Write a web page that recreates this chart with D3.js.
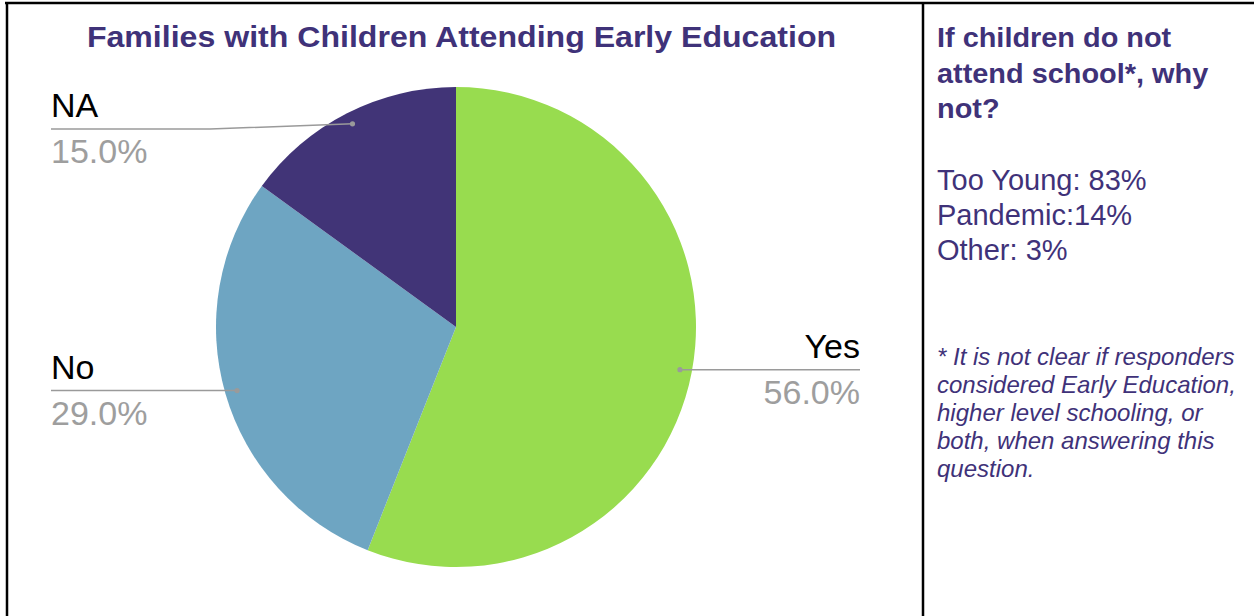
<!DOCTYPE html>
<html>
<head>
<meta charset="utf-8">
<script src="https://cdn.jsdelivr.net/npm/d3@7"></script>
<style>
  html, body { margin: 0; padding: 0; background: #fff; }
  svg { display: block; font-family: "Liberation Sans", Arial, sans-serif; }
</style>
</head>
<body>
<svg id="chart" width="1254" height="616"></svg>
<script>
// Survey answers: do the family's children attend early education?
const categories = ["Yes", "No", "NA"];
const shares = [56.0, 29.0, 15.0];
const sliceColors = ["#98dc4f", "#6ea5c2", "#413477"];

// Side panel: reasons given for not attending
const reasonsTitle = ["If children do not", "attend school*, why", "not?"];
const reasons = ["Too Young: 83%", "Pandemic:14%", "Other: 3%"];
const footnote = [
  "* It is not clear if responders",
  "considered Early Education,",
  "higher level schooling, or",
  "both, when answering this",
  "question."
];

const chartTitle = "Families with Children Attending Early Education";

const W = 1254, H = 616;
const purple = "#3f3279";
const svg = d3.select("#chart");

// frame: top rule, left rule and the column divider
svg.append("line").attr("x1", 5).attr("x2", W).attr("y1", 3).attr("y2", 3)
  .attr("stroke", "#000").attr("stroke-width", 2.5);
svg.append("line").attr("x1", 7).attr("x2", 7).attr("y1", 2).attr("y2", H)
  .attr("stroke", "#000").attr("stroke-width", 2.5);
svg.append("line").attr("x1", 923).attr("x2", 923).attr("y1", 2).attr("y2", H)
  .attr("stroke", "#000").attr("stroke-width", 2.5);

// chart title
svg.append("text")
  .attr("transform", "translate(461.5,47) scale(1.07,1)")
  .attr("text-anchor", "middle")
  .attr("font-weight", "bold")
  .attr("font-size", 30)
  .attr("fill", purple)
  .text(chartTitle);

// pie
const cx = 456, cy = 327, R = 240;
const data = categories.map((c, i) => ({ name: c, value: shares[i], color: sliceColors[i] }));
const pie = d3.pie().value(d => d.value).sort(null);
const arcs = pie(data);
const arc = d3.arc().innerRadius(0).outerRadius(R);
const g = svg.append("g").attr("transform", `translate(${cx},${cy})`);
g.selectAll("path.slice").data(arcs).enter().append("path")
  .attr("class", "slice")
  .attr("d", arc)
  .attr("fill", d => d.data.color);

// leader lines and labels
const dotArc = d3.arc().innerRadius(R * 0.95).outerRadius(R * 0.95);
const leftX = 51 - cx, rightX = 860 - cx, minLineY = 129 - cy, bendX = 210 - cx;
const fmt = d3.format(".1f");
arcs.forEach(a => {
  const [px, py] = dotArc.centroid(a);
  const mid = (a.startAngle + a.endAngle) / 2;
  const right = mid < Math.PI;
  const lineY = Math.max(py, minLineY);
  const pts = right
    ? [[px, py], [rightX, lineY]]
    : (lineY !== py ? [[px, py], [bendX, lineY], [leftX, lineY]] : [[px, py], [leftX, lineY]]);
  g.append("path")
    .attr("d", d3.line()(pts))
    .attr("fill", "none")
    .attr("stroke", "#9a9a9a")
    .attr("stroke-width", 1.5);
  g.append("circle").attr("cx", px).attr("cy", py).attr("r", 2.6).attr("fill", "#9a9a9a");
  const tx = right ? rightX : leftX;
  const anchor = right ? "end" : "start";
  g.append("text")
    .attr("x", tx).attr("y", lineY - 12)
    .attr("text-anchor", anchor)
    .attr("font-size", 34)
    .attr("fill", "#000")
    .text(a.data.name);
  g.append("text")
    .attr("x", tx).attr("y", lineY + 34)
    .attr("text-anchor", anchor)
    .attr("font-size", 34)
    .attr("fill", "#9e9e9e")
    .text(fmt(a.data.value) + "%");
});

// side panel
const px0 = 937;
reasonsTitle.forEach((t, i) => {
  svg.append("text")
    .attr("transform", `translate(${px0},${47 + i * 35.7}) scale(1.07,1)`)
    .attr("font-weight", "bold")
    .attr("font-size", 27)
    .attr("fill", purple)
    .text(t);
});
reasons.forEach((t, i) => {
  svg.append("text")
    .attr("x", px0).attr("y", 190 + i * 35)
    .attr("font-size", 29)
    .attr("fill", purple)
    .text(t);
});
footnote.forEach((t, i) => {
  svg.append("text")
    .attr("x", px0).attr("y", 365 + i * 28)
    .attr("font-size", 24)
    .attr("font-style", "italic")
    .attr("fill", purple)
    .text(t);
});
</script>
</body>
</html>
